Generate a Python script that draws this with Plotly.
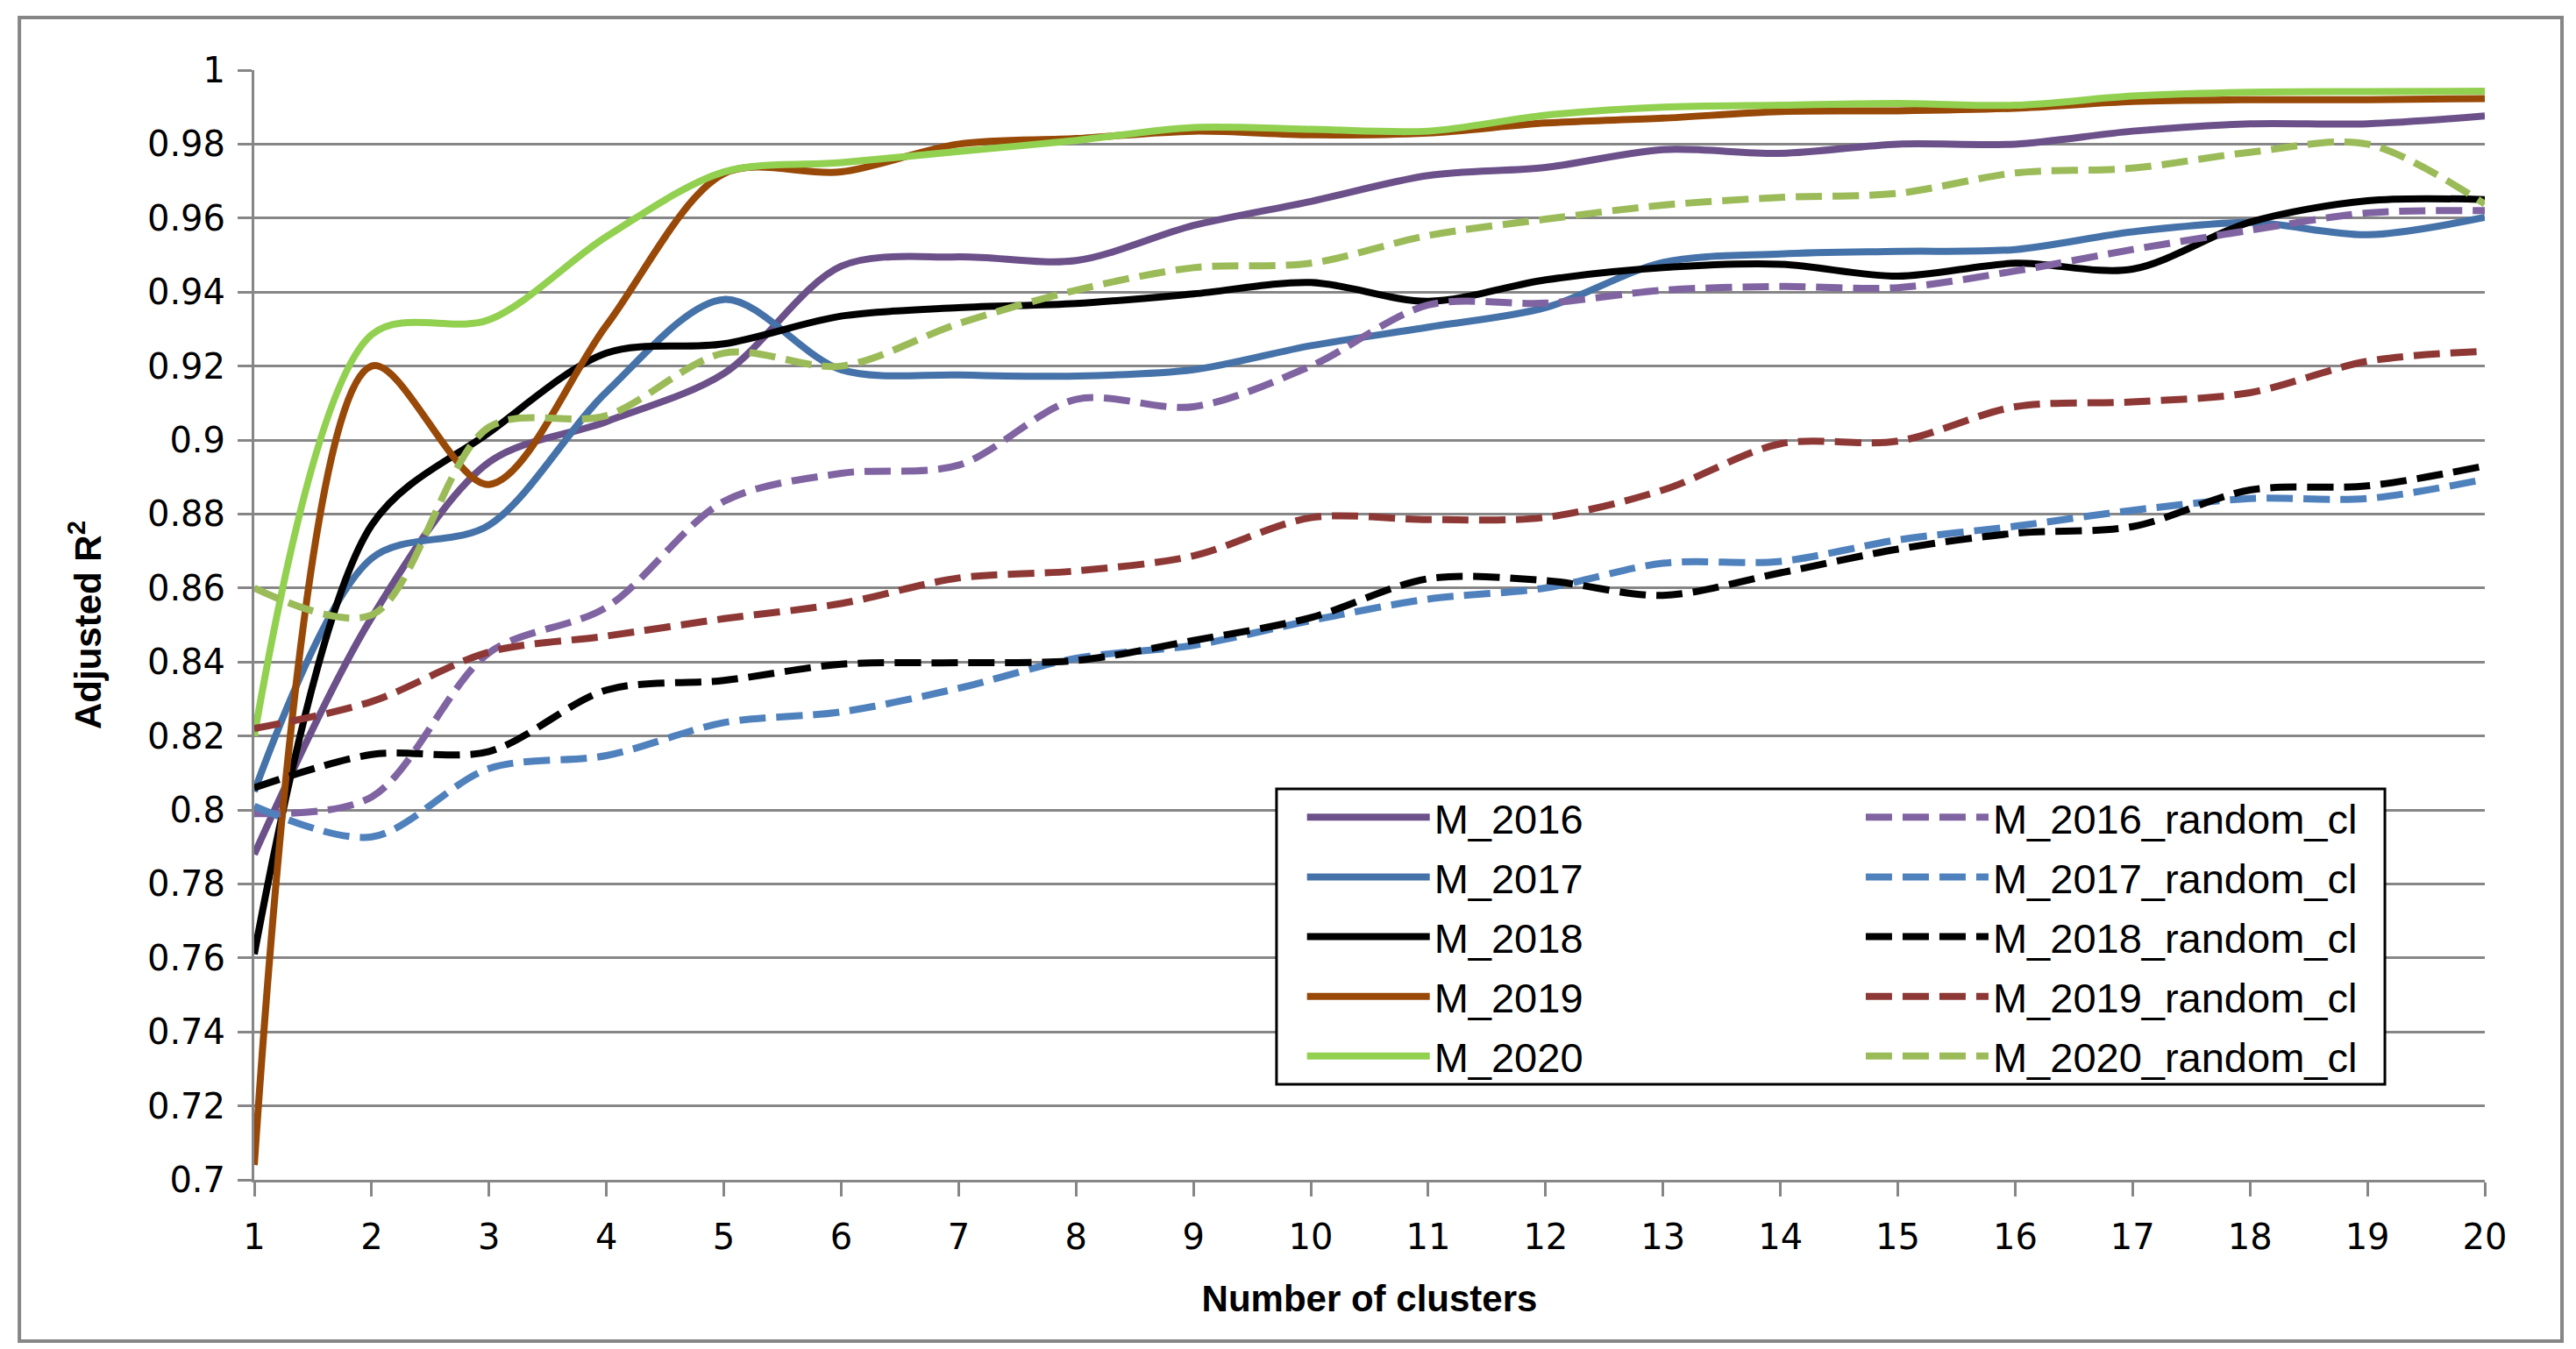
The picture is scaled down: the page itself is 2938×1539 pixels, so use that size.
import plotly.graph_objects as go

clusters = list(range(1, 21))

m_2016 = [0.788, 0.852, 0.894, 0.905, 0.918, 0.947, 0.9495, 0.9485, 0.958, 0.9645,
          0.9715, 0.9737, 0.9785, 0.9775, 0.980, 0.980, 0.9835, 0.9855, 0.9855, 0.9876]
m_2017 = [0.805, 0.868, 0.877, 0.913, 0.938, 0.919, 0.9176, 0.9173, 0.919, 0.9255,
          0.9305, 0.9358, 0.948, 0.9503, 0.951, 0.9515, 0.9563, 0.9588, 0.9555, 0.9602]
m_2018 = [0.761, 0.877, 0.902, 0.9235, 0.926, 0.9335, 0.9358, 0.9369, 0.9395, 0.9426,
          0.9375, 0.9433, 0.9466, 0.9475, 0.9443, 0.9478, 0.9462, 0.9589, 0.9647, 0.965]
m_2019 = [0.704, 0.920, 0.888, 0.931, 0.972, 0.9725, 0.980, 0.9815, 0.9835, 0.9825,
          0.983, 0.9857, 0.987, 0.9888, 0.989, 0.9897, 0.9915, 0.992, 0.992, 0.9923]
m_2020 = [0.820, 0.9285, 0.9325, 0.955, 0.9725, 0.975, 0.978, 0.981, 0.9845, 0.984,
          0.9835, 0.9878, 0.990, 0.9905, 0.991, 0.9905, 0.993, 0.994, 0.9942, 0.9943]

m_2016_random = [0.799, 0.8035, 0.8425, 0.8548, 0.8834, 0.891, 0.8932, 0.911, 0.909, 0.920,
                 0.9365, 0.937, 0.9405, 0.9415, 0.9412, 0.9457, 0.9515, 0.9567, 0.9614, 0.962]
m_2017_random = [0.801, 0.7927, 0.8112, 0.8147, 0.8236, 0.8265, 0.8329, 0.841, 0.8445, 0.8512,
                 0.857, 0.860, 0.8667, 0.8672, 0.873, 0.8767, 0.881, 0.8842, 0.8842, 0.8894]
m_2018_random = [0.806, 0.815, 0.8158, 0.8324, 0.835, 0.8394, 0.8398, 0.8404, 0.8458, 0.852,
                 0.8625, 0.862, 0.858, 0.8641, 0.8705, 0.8748, 0.8766, 0.8865, 0.8876, 0.893]
m_2019_random = [0.822, 0.8293, 0.8427, 0.847, 0.8517, 0.8558, 0.8627, 0.8646, 0.8687, 0.879,
                 0.8785, 0.8791, 0.8865, 0.899, 0.8997, 0.909, 0.9103, 0.9128, 0.9213, 0.924]
m_2020_random = [0.860, 0.8527, 0.9035, 0.9066, 0.9235, 0.920, 0.9315, 0.9405, 0.9466, 0.9478,
                 0.9553, 0.9597, 0.9635, 0.9656, 0.9667, 0.9722, 0.9735, 0.9778, 0.980, 0.9638]

y_tick_values = [0.7, 0.72, 0.74, 0.76, 0.78, 0.8, 0.82, 0.84, 0.86, 0.88,
                 0.9, 0.92, 0.94, 0.96, 0.98, 1.0]
y_tick_labels = ["0.7", "0.72", "0.74", "0.76", "0.78", "0.8", "0.82", "0.84", "0.86", "0.88",
                 "0.9", "0.92", "0.94", "0.96", "0.98", "1"]

series = [
    ("M_2016", m_2016, "#6B5089", "solid"),
    ("M_2017", m_2017, "#4572A8", "solid"),
    ("M_2018", m_2018, "#000000", "solid"),
    ("M_2019", m_2019, "#984807", "solid"),
    ("M_2020", m_2020, "#92D050", "solid"),
    ("M_2016_random_cl", m_2016_random, "#8064A2", "dash"),
    ("M_2017_random_cl", m_2017_random, "#4F81BD", "dash"),
    ("M_2018_random_cl", m_2018_random, "#000000", "dash"),
    ("M_2019_random_cl", m_2019_random, "#8E3836", "dash"),
    ("M_2020_random_cl", m_2020_random, "#9BBB59", "dash"),
]

fig = go.Figure()
for name, vals, color, style in series:
    fig.add_trace(go.Scatter(
        x=clusters, y=vals, name=name, mode="lines",
        legend="legend" if style == "solid" else "legend2",
        legendgroup=name,
        line=dict(color=color, width=8, shape="spline", smoothing=0.9,
                  dash="30px,12px" if style == "dash" else "solid"),
    ))

grid = "#868686"
legend_common = dict(
    orientation="v", yanchor="top", xanchor="left",
    bgcolor="rgba(0,0,0,0)", borderwidth=0,
    font=dict(size=47, family="Liberation Sans", color="black"),
    itemwidth=140, tracegroupgap=4,
)
fig.update_layout(
    width=2938, height=1539,
    margin=dict(l=290, r=104, t=80, b=193),
    paper_bgcolor="white", plot_bgcolor="white",
    font=dict(family="Liberation Sans", color="black"),
    showlegend=True,
    legend=dict(x=0.4700, y=0.3560, **legend_common),
    legend2=dict(x=0.7205, y=0.3560, **legend_common),
    xaxis=dict(
        range=[1, 20], tickvals=clusters, ticktext=[str(c) for c in clusters],
        showgrid=False, zeroline=False,
        showline=True, linecolor=grid, linewidth=3,
        ticks="outside", ticklen=16, tickwidth=3, tickcolor=grid,
        tickfont=dict(size=40, family="DejaVu Sans"),
        ticklabelstandoff=12,
        title=dict(text="Number of clusters", standoff=34,
                   font=dict(size=42, family="Liberation Sans", weight="bold")),
    ),
    yaxis=dict(
        range=[0.7, 1.0], tickvals=y_tick_values, ticktext=y_tick_labels,
        showgrid=True, gridcolor=grid, gridwidth=3, zeroline=False,
        showline=True, linecolor=grid, linewidth=3,
        ticks="outside", ticklen=16, tickwidth=3, tickcolor=grid,
        tickfont=dict(size=40, family="DejaVu Sans"),
        ticklabelstandoff=6,
        title=dict(text="Adjusted R<sup>2</sup>", standoff=40,
                   font=dict(size=42, family="Liberation Sans", weight="bold")),
    ),
    shapes=[
        dict(type="rect", xref="paper", yref="paper",
             x0=-0.1053, x1=1.0346, y0=-0.1453, y1=1.0474,
             line=dict(color=grid, width=4), fillcolor="rgba(0,0,0,0)", layer="below"),
        dict(type="rect", xref="paper", yref="paper",
             x0=0.4583, x1=0.9552, y0=0.0861, y1=0.3523,
             line=dict(color="black", width=3), fillcolor="white", layer="above"),
    ],
)

fig.write_html("out.html", config={"displayModeBar": False},
               post_script="document.body.style.margin='0';document.body.style.overflow='hidden';")
